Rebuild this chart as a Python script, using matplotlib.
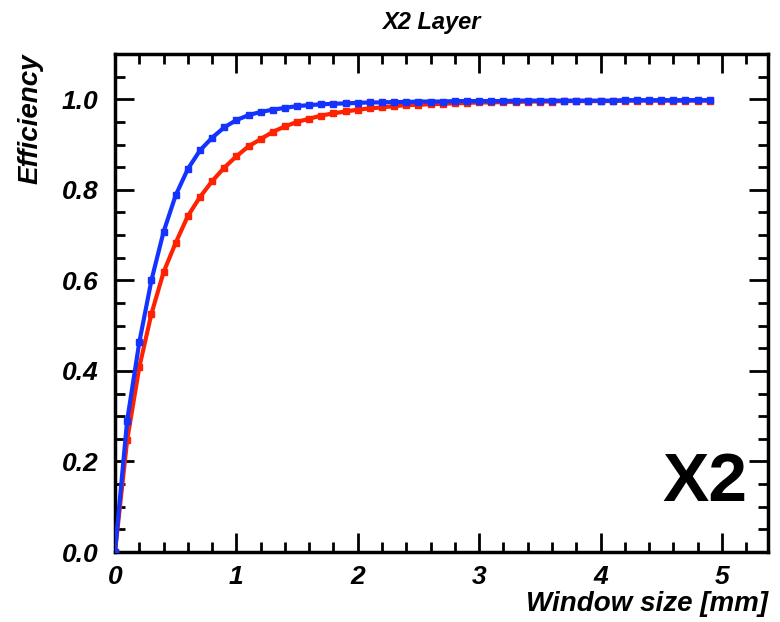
import matplotlib.pyplot as plt
import numpy as np
from matplotlib.ticker import MultipleLocator

plt.rcParams['font.family'] = ['Liberation Sans', 'DejaVu Sans']

# window sizes in mm, one point every 0.1 mm
window = [round(0.1 * i, 1) for i in range(50)]

# efficiency vs window size, blue curve
eff_blue = [0.000, 0.290, 0.463, 0.600, 0.707, 0.788, 0.846, 0.887, 0.915, 0.938,
            0.954, 0.965, 0.972, 0.977, 0.981, 0.985, 0.987, 0.989, 0.990, 0.991,
            0.992, 0.993, 0.993, 0.994, 0.994, 0.995, 0.995, 0.995, 0.996, 0.996,
            0.996, 0.996, 0.996, 0.997, 0.997, 0.997, 0.997, 0.997, 0.997, 0.997,
            0.997, 0.997, 0.998, 0.998, 0.998, 0.998, 0.998, 0.998, 0.998, 0.998]

# efficiency vs window size, red curve
eff_red = [0.000, 0.247, 0.408, 0.526, 0.618, 0.683, 0.742, 0.784, 0.819, 0.849,
           0.874, 0.896, 0.912, 0.928, 0.940, 0.950, 0.957, 0.964, 0.969, 0.973,
           0.977, 0.980, 0.982, 0.985, 0.987, 0.988, 0.989, 0.990, 0.991, 0.992,
           0.993, 0.993, 0.994, 0.994, 0.995, 0.995, 0.995, 0.996, 0.996, 0.996,
           0.996, 0.996, 0.997, 0.997, 0.997, 0.997, 0.997, 0.997, 0.997, 0.997]

yticks = [0.0, 0.2, 0.4, 0.6, 0.8, 1.0]
ytick_labels = ['0.0', '0.2', '0.4', '0.6', '0.8', '1.0']

fig = plt.figure(figsize=(7.8, 6.22), dpi=100)
ax = fig.add_axes([115 / 780, 1 - 552 / 622, (768 - 115) / 780, (552 - 54) / 622])

ax.plot(window, eff_red, color='#ff2200', lw=3, marker='s', ms=5, zorder=3)
ax.plot(window, eff_blue, color='#1433ff', lw=3, marker='s', ms=5, zorder=4)

ax.set_xlim(0, 5.38)
ax.set_ylim(0, 1.1)
ax.xaxis.set_major_locator(MultipleLocator(1))
ax.xaxis.set_minor_locator(MultipleLocator(0.2))
ax.set_yticks(yticks)
ax.set_yticklabels(ytick_labels)
ax.yaxis.set_minor_locator(MultipleLocator(0.05))

ax.tick_params(which='both', direction='in', top=True, right=True, width=2)
ax.tick_params(which='major', length=14, labelsize=19)
ax.tick_params(axis='y', which='major', pad=12)
ax.tick_params(axis='x', which='major', pad=9)
ax.tick_params(which='minor', length=7)
for lab in ax.get_xticklabels() + ax.get_yticklabels():
    lab.set_fontweight('bold')
    lab.set_fontstyle('italic')
for sp in ax.spines.values():
    sp.set_linewidth(2.5)

fig.text(431 / 780, 1 - 23 / 622, 'X2 Layer', ha='center', va='center',
         fontsize=17, fontweight='bold', fontstyle='italic')
fig.text(768 / 780, 1 - 604 / 622, 'Window size [mm]', ha='right', va='center',
         fontsize=20, fontweight='bold', fontstyle='italic')
fig.text(31 / 780, 1 - 54 / 622, 'Efficiency', ha='center', va='top', rotation=90,
         fontsize=20, fontweight='bold', fontstyle='italic')
ax.text(0.9035, 0.139, 'X2', transform=ax.transAxes, ha='center', va='center',
        fontsize=50, fontweight='bold')

fig.savefig('out.png', dpi=100)
